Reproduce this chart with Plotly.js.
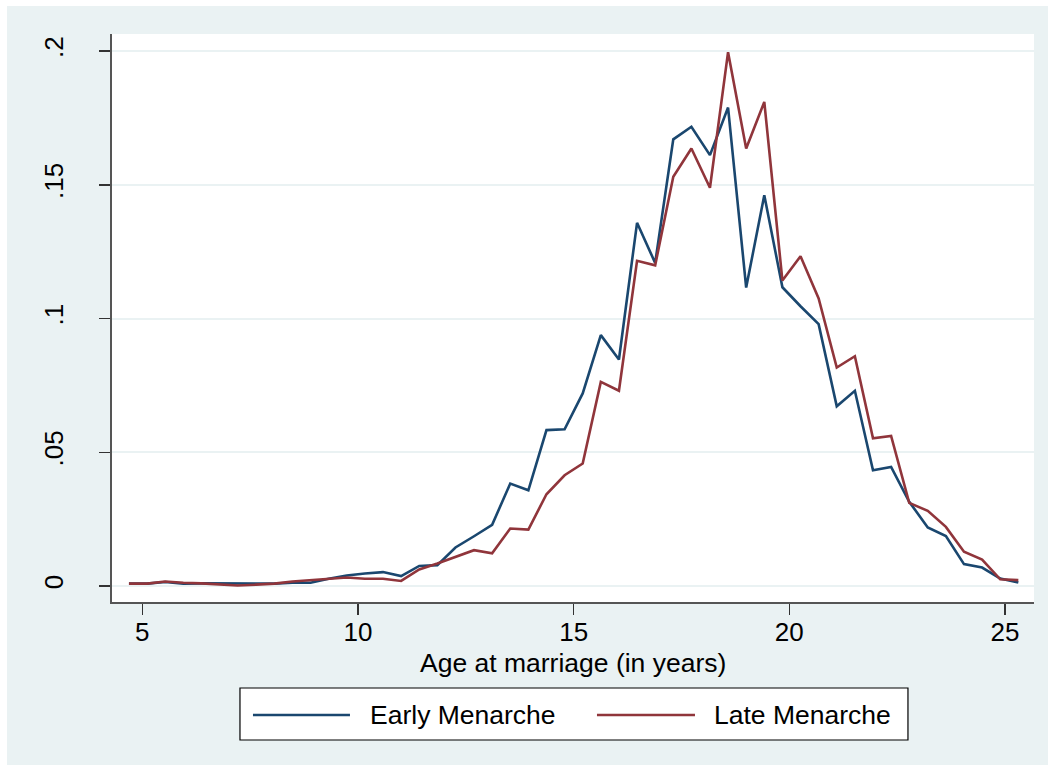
<!DOCTYPE html>
<html>
<head>
<meta charset="utf-8">
<script src="https://cdn.plot.ly/plotly-3.0.1.min.js"></script>
<style>
  html, body { margin: 0; padding: 0; background: #ffffff; }
  #chart { position: absolute; left: 7px; top: 6px; width: 1041px; height: 759px; }
</style>
</head>
<body>
<div id="chart"></div>
<script>
// Kernel density of age at marriage, by timing of menarche
const ageAtMarriage = [4.69, 5.11, 5.53, 5.95, 6.37, 6.79, 7.21, 7.64, 8.06, 8.48,
  8.90, 9.32, 9.74, 10.16, 10.58, 11.00, 11.42, 11.84, 12.26, 12.69,
  13.11, 13.53, 13.95, 14.37, 14.79, 15.21, 15.63, 16.05, 16.47, 16.89,
  17.31, 17.73, 18.16, 18.58, 19.00, 19.42, 19.84, 20.26, 20.68, 21.10,
  21.52, 21.94, 22.36, 22.78, 23.21, 23.63, 24.05, 24.47, 24.89, 25.31];

const earlyMenarche = [0.0009, 0.0009, 0.0015, 0.0009, 0.0010, 0.0010, 0.0010, 0.0010, 0.0009, 0.0012,
  0.0012, 0.0027, 0.0039, 0.0047, 0.0052, 0.0037, 0.0075, 0.0078, 0.0144, 0.0186,
  0.0229, 0.0383, 0.0358, 0.0583, 0.0586, 0.0720, 0.0938, 0.0847, 0.1358, 0.1208,
  0.1670, 0.1717, 0.1611, 0.1789, 0.1116, 0.1461, 0.1117, 0.1046, 0.0979, 0.0672,
  0.0730, 0.0433, 0.0445, 0.0315, 0.0219, 0.0187, 0.0082, 0.0069, 0.0028, 0.0013];

const lateMenarche = [0.0009, 0.0009, 0.0017, 0.0012, 0.0010, 0.0005, 0.0002, 0.0005, 0.0009, 0.0017,
  0.0022, 0.0027, 0.0032, 0.0027, 0.0027, 0.0019, 0.0062, 0.0084, 0.0109, 0.0134,
  0.0122, 0.0215, 0.0211, 0.0343, 0.0414, 0.0458, 0.0763, 0.0730, 0.1216, 0.1199,
  0.1530, 0.1636, 0.1489, 0.1996, 0.1636, 0.1810, 0.1142, 0.1233, 0.1075, 0.0817,
  0.0859, 0.0552, 0.0561, 0.0311, 0.0281, 0.0221, 0.0128, 0.0099, 0.0025, 0.0022];

const seriesNames = ['Early Menarche', 'Late Menarche'];
const xTitle = 'Age at marriage (in years)';
const xTicks = [5, 10, 15, 20, 25];
const yTicks = [0, 0.05, 0.1, 0.15, 0.2];
const yTickLabels = ['0', '.05', '.1', '.15', '.2'];

const NAVY = '#1a476f';
const MAROON = '#90353b';
const BG = '#eaf2f3';
const FONT = 'Liberation Sans, Arial, Helvetica, sans-serif';

const traces = [
  { x: ageAtMarriage, y: earlyMenarche, name: seriesNames[0], type: 'scatter', mode: 'lines',
    line: { color: NAVY, width: 2.6 }, hoverinfo: 'skip' },
  { x: ageAtMarriage, y: lateMenarche, name: seriesNames[1], type: 'scatter', mode: 'lines',
    line: { color: MAROON, width: 2.6 }, hoverinfo: 'skip' }
];

// Legend drawn as a boxed key below the axis title
const legY = -0.199;
const shapes = [
  { type: 'rect', xref: 'paper', yref: 'paper', x0: 0.1388, x1: 0.8633, y0: -0.2430, y1: -0.1514,
    line: { color: '#000000', width: 1.2 }, fillcolor: '#ffffff', layer: 'above' },
  { type: 'line', xref: 'paper', yref: 'paper', x0: 0.1529, x1: 0.2581, y0: legY, y1: legY,
    line: { color: NAVY, width: 2.6 } },
  { type: 'line', xref: 'paper', yref: 'paper', x0: 0.5260, x1: 0.6323, y0: legY, y1: legY,
    line: { color: MAROON, width: 2.6 } }
];
const annotations = [
  // x-axis title, placed just under the tick labels
  { xref: 'paper', yref: 'paper', x: 0.5, y: -0.1078, xanchor: 'center', yanchor: 'middle',
    text: xTitle, showarrow: false, borderpad: 0, font: { family: FONT, size: 26.5, color: '#000' } },
  { xref: 'paper', yref: 'paper', x: 0.2777, y: legY, xanchor: 'left', yanchor: 'middle',
    text: seriesNames[0], showarrow: false, font: { family: FONT, size: 26.5, color: '#000' } },
  { xref: 'paper', yref: 'paper', x: 0.6508, y: legY, xanchor: 'left', yanchor: 'middle',
    text: seriesNames[1], showarrow: false, font: { family: FONT, size: 26.5, color: '#000' } }
];

const layout = {
  width: 1041, height: 759,
  margin: { l: 105, r: 14, t: 28, b: 163 },
  paper_bgcolor: BG,
  plot_bgcolor: '#ffffff',
  showlegend: false,
  font: { family: FONT, size: 26, color: '#000' },
  xaxis: {
    range: [4.297, 25.673],
    tickmode: 'array', tickvals: xTicks, ticktext: xTicks.map(String),
    ticks: 'outside', ticklen: 11, tickwidth: 1.5, tickcolor: '#333',
    ticklabelstandoff: -5,
    showline: true, linecolor: '#555', linewidth: 2,
    showgrid: false, zeroline: false,
    tickfont: { family: FONT, size: 26, color: '#000' }
  },
  yaxis: {
    range: [-0.00598, 0.2064],
    tickmode: 'array', tickvals: yTicks, ticktext: yTickLabels,
    tickangle: -90,
    ticks: 'outside', ticklen: 11, tickwidth: 1.5, tickcolor: '#333',
    ticklabelstandoff: 26,
    showline: true, linecolor: '#555', linewidth: 2,
    showgrid: true, gridcolor: BG, gridwidth: 2, zeroline: false,
    tickfont: { family: FONT, size: 26, color: '#000' }
  },
  shapes: shapes,
  annotations: annotations
};

Plotly.newPlot('chart', traces, layout, { displayModeBar: false, staticPlot: true });
</script>
</body>
</html>
